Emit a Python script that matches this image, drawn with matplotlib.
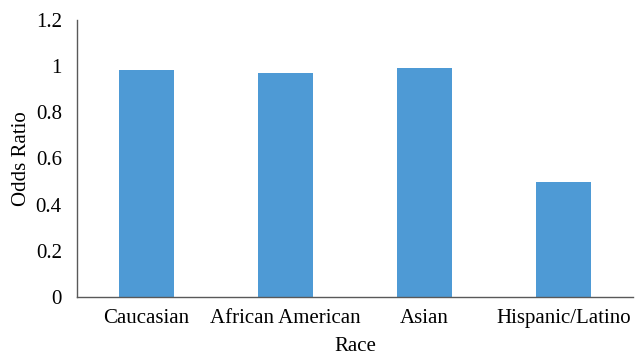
import matplotlib
matplotlib.use("Agg")
import matplotlib.pyplot as plt

categories = ["Caucasian", "African American", "Asian", "Hispanic/Latino"]
odds_ratio = [0.983, 0.970, 0.992, 0.498]
yticks = [0, 0.2, 0.4, 0.6, 0.8, 1.0, 1.2]
ytick_labels = ["0", "0.2", "0.4", "0.6", "0.8", "1", "1.2"]

plt.rcParams['font.family'] = ['Liberation Serif', 'DejaVu Serif']

fig = plt.figure(figsize=(6.43, 3.55), dpi=100)
ax = fig.add_axes([0.1198, 0.1634, 0.8645, 0.7803])

x = range(len(categories))
ax.bar(x, odds_ratio, width=0.40, color="#4E9AD5")
ax.set_xlim(-0.5, len(categories) - 0.5)
ax.set_ylim(0, 1.2)
ax.set_yticks(yticks)
ax.set_yticklabels(ytick_labels)
ax.set_xticks(list(x))
ax.set_xticklabels(categories)
ax.tick_params(axis='both', length=0, labelsize=15)
ax.tick_params(axis='x', pad=9)
ax.tick_params(axis='y', pad=11)
for s in ["top", "right"]:
    ax.spines[s].set_visible(False)
for s in ["left", "bottom"]:
    ax.spines[s].set_color("#595959")
    ax.spines[s].set_linewidth(1.0)
ax.set_xlabel("Race", fontsize=15, labelpad=6)
ax.set_ylabel("Odds Ratio", fontsize=15, labelpad=3)

fig.savefig("out.png", dpi=100)
